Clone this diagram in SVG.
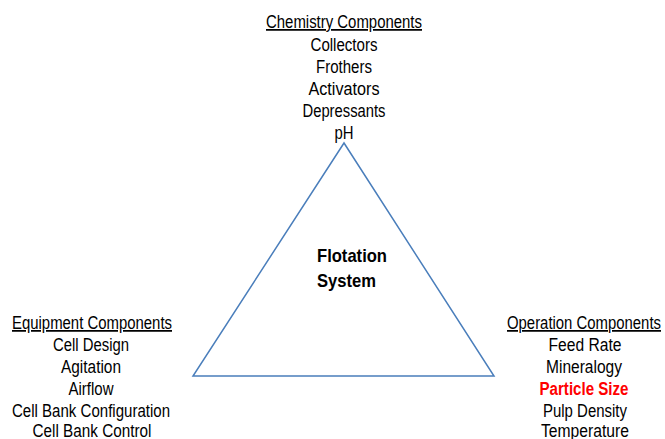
<svg xmlns="http://www.w3.org/2000/svg" width="665" height="439" viewBox="0 0 665 439">
  <style>
    text { font-family: "Liberation Sans", Arial, sans-serif; font-size: 17.5px; fill: #000; }
    .c { text-anchor: middle; }
    .hd { text-decoration: underline; }
    .red { fill: #ff0000; font-weight: bold; }
    .title { font-weight: bold; font-size: 18.5px; }
    .tri { fill: none; stroke: #4a7ebb; stroke-width: 1.5; }
  </style>
  <rect width="665" height="439" fill="#ffffff"/>

  <g id="connectors">
    <polygon class="tri" points="344,143 193,376 494,376"/>
  </g>

  <g id="flotation-system">
    <text class="title" x="317" y="262" textLength="70" lengthAdjust="spacingAndGlyphs">Flotation</text>
    <text class="title" x="317" y="287" textLength="59" lengthAdjust="spacingAndGlyphs">System</text>
  </g>

  <g id="chemistry-components">
    <text class="c hd" x="344" y="28" textLength="156" lengthAdjust="spacingAndGlyphs">Chemistry Components</text>
    <text class="c" x="344" y="51" textLength="67" lengthAdjust="spacingAndGlyphs">Collectors</text>
    <text class="c" x="344" y="73" textLength="56" lengthAdjust="spacingAndGlyphs">Frothers</text>
    <text class="c" x="344" y="95" textLength="71" lengthAdjust="spacingAndGlyphs">Activators</text>
    <text class="c" x="344" y="117" textLength="83" lengthAdjust="spacingAndGlyphs">Depressants</text>
    <text class="c" x="344" y="139" textLength="19" lengthAdjust="spacingAndGlyphs">pH</text>
  </g>

  <g id="equipment-components">
    <text class="c hd" x="92" y="329" textLength="160" lengthAdjust="spacingAndGlyphs">Equipment Components</text>
    <text class="c" x="91" y="351" textLength="76" lengthAdjust="spacingAndGlyphs">Cell Design</text>
    <text class="c" x="91" y="373" textLength="60" lengthAdjust="spacingAndGlyphs">Agitation</text>
    <text class="c" x="91" y="395" textLength="45" lengthAdjust="spacingAndGlyphs">Airflow</text>
    <text class="c" x="91" y="417" textLength="158" lengthAdjust="spacingAndGlyphs">Cell Bank Configuration</text>
    <text class="c" x="92" y="437" textLength="119" lengthAdjust="spacingAndGlyphs">Cell Bank Control</text>
  </g>

  <g id="operation-components">
    <text class="c hd" x="584" y="329" textLength="154" lengthAdjust="spacingAndGlyphs">Operation Components</text>
    <text class="c" x="585" y="351" textLength="73" lengthAdjust="spacingAndGlyphs">Feed Rate</text>
    <text class="c" x="584" y="373" textLength="76" lengthAdjust="spacingAndGlyphs">Mineralogy</text>
    <text class="c red" x="584" y="395" textLength="89" lengthAdjust="spacingAndGlyphs">Particle Size</text>
    <text class="c" x="585" y="417" textLength="84" lengthAdjust="spacingAndGlyphs">Pulp Density</text>
    <text class="c" x="585" y="437" textLength="88" lengthAdjust="spacingAndGlyphs">Temperature</text>
  </g>
</svg>
